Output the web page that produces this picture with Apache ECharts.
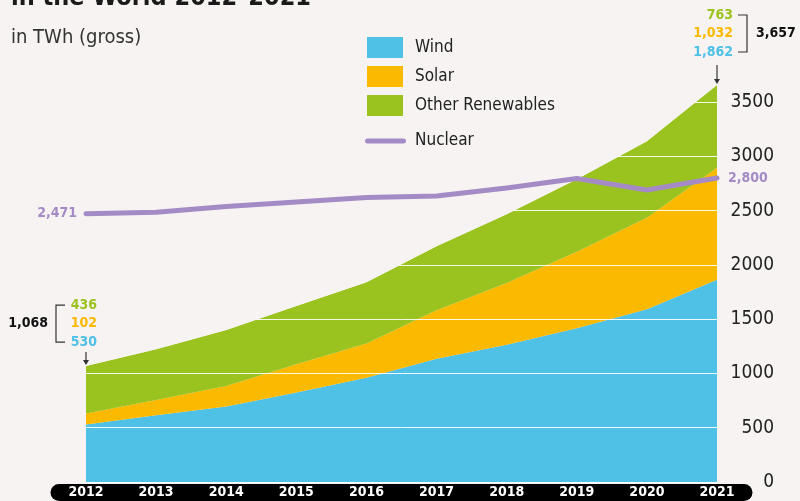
<!DOCTYPE html>
<html><head><meta charset="utf-8">
<script src="https://cdn.jsdelivr.net/npm/echarts@6/dist/echarts.min.js"></script>
<style>html,body{margin:0;padding:0;background:#f7f3f2;}#c{width:800px;height:501px;}</style>
</head><body><div id="c"></div>
<script>
// ---- data ----
const years   = ['2012','2013','2014','2015','2016','2017','2018','2019','2020','2021'];
const wind    = [530, 615, 695, 825, 960, 1135, 1265, 1415, 1590, 1862];
const solar   = [102, 140, 189, 260, 316, 447, 567, 705, 843, 1032];
const other   = [436, 467, 516, 536, 564, 589, 635, 669, 705, 763];
const nuclear = [2471, 2485, 2538, 2579, 2621, 2634, 2708, 2796, 2690, 2800];
const seriesNames = ['Wind', 'Solar', 'Other Renewables', 'Nuclear'];
const yMax = 3500, yStep = 500;
const titleText = 'in the World 2012–2021';
const subtitleText = 'in TWh (gross)';

// ---- style ----
const C = {wind:'#4fc0e6', solar:'#fbb900', other:'#9bc31f', nuclear:'#a48bc5', bg:'#f7f3f2', text:'#222'};
const FONT = '"DejaVu Sans Condensed", "DejaVu Sans", sans-serif';
const fmt = v => v.toLocaleString('en-US');
const last = years.length - 1;
const totals = wind.map((v, i) => v + solar[i] + other[i]);
// background-coloured cover above the stack, so the white grid lines only show on the areas
const cover = totals.map(t => Math.max(0, yMax + 12 - t));

const chart = echarts.init(document.getElementById('c'), null, {renderer:'canvas'});

const xRichBase = {width:71, height:17, lineHeight:17, align:'center', backgroundColor:'#000', color:'#fff', fontWeight:'bold', fontSize:14, fontFamily:FONT};

const option = {
  backgroundColor: C.bg,
  animation: false,
  title: [
    {text: titleText, left: 11, top: -14, padding:0, textStyle:{fontFamily:FONT, fontWeight:'bold', fontSize:25, color:'#1a1a1a'}},
    {text: subtitleText, left: 11, top: 28, padding:0, textStyle:{fontFamily:FONT, fontWeight:'normal', fontSize:20, color:'#333'}}
  ],
  legend: [
    {data: seriesNames.slice(0,3), orient:'vertical', left:367, top:37, itemWidth:36, itemHeight:21, itemGap:8, icon:'rect', padding:0, z:12,
     textStyle:{fontFamily:FONT, fontSize:17, color:C.text, padding:[0,0,0,7]}},
    {data: [seriesNames[3]], orient:'vertical', left:365, top:132.5, itemWidth:41, itemHeight:5, padding:0, z:12,
     icon:'path://M2.5,0 L38.5,0 A2.5,2.5 0 0 1 38.5,5 L2.5,5 A2.5,2.5 0 0 1 2.5,0 Z',
     itemStyle:{color:C.nuclear},
     textStyle:{fontFamily:FONT, fontSize:17, color:C.text, padding:[0,0,0,4]}}
  ],
  grid: {left:86, right:83, top:102, bottom:19},
  xAxis: {
    type:'category', data: years, boundaryGap:false,
    axisLine:{show:false}, axisTick:{show:false},
    axisLabel:{
      margin:2, interval:0,
      formatter:(v, i) => (i === 0 ? '{f|' : i === last ? '{l|' : '{m|') + v + '}',
      rich:{
        m: xRichBase,
        f: Object.assign({}, xRichBase, {borderRadius:[9,0,0,9]}),
        l: Object.assign({}, xRichBase, {borderRadius:[0,9,9,0]})
      }
    }
  },
  yAxis: {
    type:'value', position:'right', min:0, max:yMax, interval:yStep, z:5,
    axisLine:{show:false}, axisTick:{show:false},
    splitLine:{show:true, lineStyle:{color:'rgba(255,255,255,0.9)', width:1}},
    axisLabel:{align:'right', margin:57, fontFamily:FONT, fontSize:19, color:C.text, formatter: v => String(v)}
  },
  series: [
    {name:'Wind', type:'line', stack:'re', data: wind, symbol:'none', clip:false, color:C.wind,
     lineStyle:{width:0}, areaStyle:{color:C.wind, opacity:1}, z:2},
    {name:'Solar', type:'line', stack:'re', data: solar, symbol:'none', clip:false, color:C.solar,
     lineStyle:{width:0}, areaStyle:{color:C.solar, opacity:1}, z:2},
    {name:'Other Renewables', type:'line', stack:'re', data: other, symbol:'none', clip:false, color:C.other,
     lineStyle:{width:0}, areaStyle:{color:C.other, opacity:1}, z:2},
    {name:'cover', type:'line', stack:'re', data: cover, symbol:'none', clip:false, color:C.bg, silent:true,
     lineStyle:{width:0}, areaStyle:{color:C.bg, opacity:1}, z:7},
    {name:'Nuclear', type:'line', data: nuclear.map((v, i) => {
        if (i === 0) return {value:v, label:{show:true, position:'left', distance:8}};
        if (i === last) return {value:v, label:{show:true, position:'right', distance:10}};
        return v;
      }),
     symbol:'circle', symbolSize:2, showAllSymbol:true, clip:false, color:C.nuclear, z:8,
     itemStyle:{color:C.nuclear},
     lineStyle:{width:5, color:C.nuclear, cap:'round', join:'round'},
     label:{show:false, formatter: p => fmt(p.value), fontFamily:FONT, fontSize:14, fontWeight:'bold', color:C.nuclear}}
  ]
};
chart.setOption(option);

// ---- stack annotations, positioned from the data through the axes ----
function stackAnnot(i, side) {
  const total = totals[i];
  const p = chart.convertToPixel({xAxisIndex:0, yAxisIndex:0}, [years[i], total]);
  const x = p[0], y = p[1];
  const els = [];
  const arrowTop = side === 'left' ? y - 14 : 65;
  els.push({type:'line', shape:{x1:x, y1:arrowTop, x2:x, y2:y-4}, style:{stroke:'#333', lineWidth:1.2}, z:20});
  els.push({type:'polygon', shape:{points:[[x-3,y-6],[x+3,y-6],[x,y-1]]}, style:{fill:'#333'}, z:20});
  let labX, yW, brX, brTickX, totX, totAlign;
  if (side === 'left') {
    labX = x + 11; yW = y - 24; brX = x - 30; brTickX = x - 21; totX = x - 38; totAlign = 'right';
  } else {
    labX = x + 16; yW = 52; brX = x + 30; brTickX = x + 21; totX = x + 39; totAlign = 'left';
  }
  const yS = yW - 18.5, yO = yW - 37;
  const t = (txt, tx, ty, col, align) => ({type:'text', z:20,
    style:{text:txt, x:tx, y:ty, fill:col, align:align, verticalAlign:'middle', fontFamily:FONT, fontSize:14, fontWeight:'bold'}});
  els.push(t(fmt(other[i]), labX, yO, C.other, 'right'));
  els.push(t(fmt(solar[i]), labX, yS, C.solar, 'right'));
  els.push(t(fmt(wind[i]), labX, yW, C.wind, 'right'));
  els.push({type:'polyline', z:20, shape:{points:[[brTickX,yO],[brX,yO],[brX,yW],[brTickX,yW]]}, style:{stroke:'#333', lineWidth:1.2, fill:null}});
  els.push(t(fmt(total), totX, yS, '#111', totAlign));
  return els;
}
chart.setOption({graphic: {elements: stackAnnot(0, 'left').concat(stackAnnot(last, 'right'))}});
</script>
</body></html>
